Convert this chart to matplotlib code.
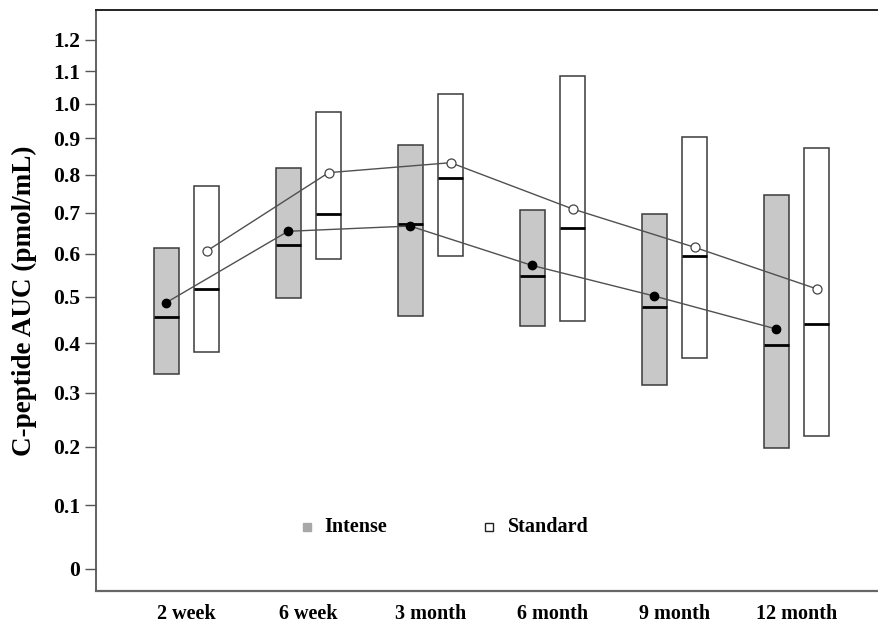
import numpy as np
import matplotlib
matplotlib.use("Agg")
import matplotlib.pyplot as plt
from matplotlib.patches import Rectangle

timepoints = ["2 week", "6 week", "3 month", "6 month", "9 month", "12 month"]

# Intense group: box bounds, median and mean (pmol/mL)
intense_low = [0.338, 0.498, 0.457, 0.436, 0.315, 0.197]
intense_high = [0.614, 0.817, 0.881, 0.707, 0.698, 0.745]
intense_median = [0.456, 0.621, 0.672, 0.548, 0.478, 0.397]
intense_mean = [0.487, 0.654, 0.667, 0.572, 0.502, 0.430]

# Standard group
standard_low = [0.381, 0.587, 0.595, 0.447, 0.370, 0.219]
standard_high = [0.769, 0.977, 1.031, 1.086, 0.904, 0.873]
standard_median = [0.518, 0.697, 0.791, 0.662, 0.594, 0.441]
standard_mean = [0.606, 0.805, 0.832, 0.710, 0.615, 0.518]

yticks = [0, 0.1, 0.2, 0.3, 0.4, 0.5, 0.6, 0.7, 0.8, 0.9, 1.0, 1.1, 1.2]
ytick_labels = ["0", "0.1", "0.2", "0.3", "0.4", "0.5", "0.6", "0.7", "0.8", "0.9", "1.0", "1.1", "1.2"]

serif = ["Liberation Serif", "DejaVu Serif"]

fig = plt.figure(figsize=(8.79, 6.27), dpi=100)
ax = fig.add_axes([0.1092, 0.0574, 0.8908, 0.9266])

ax.set_yscale("function", functions=(np.log1p, np.expm1))
ax.set_ylim(-0.0323, 1.30)
ax.set_xlim(-0.574, 5.844)

n = len(timepoints)
x_int = np.arange(n, dtype=float)
x_std = x_int + 0.333
box_w = 0.205

for i in range(n):
    for xc, lo, hi, med, fill in (
        (x_int[i], intense_low[i], intense_high[i], intense_median[i], "#c8c8c8"),
        (x_std[i], standard_low[i], standard_high[i], standard_median[i], "white"),
    ):
        ax.add_patch(Rectangle((xc - box_w / 2, lo), box_w, hi - lo,
                               facecolor=fill, edgecolor="#3a3a3a", linewidth=1.1, zorder=2))
        ax.plot([xc - box_w / 2, xc + box_w / 2], [med, med], color="black", lw=2.0,
                solid_capstyle="butt", zorder=3)

ax.plot(x_int, intense_mean, color="#505050", lw=1.0, zorder=4)
ax.plot(x_std, standard_mean, color="#505050", lw=1.0, zorder=4)
ax.plot(x_int, intense_mean, "o", ms=6, mfc="black", mec="black", zorder=5)
ax.plot(x_std, standard_mean, "o", ms=6.5, mfc="white", mec="#444444", mew=0.9, zorder=5)

# Category labels centred under each pair of boxes
ax.set_xticks((x_int + x_std) / 2)
ax.set_xticklabels(timepoints, fontfamily=serif, fontweight="bold", fontsize=14.5)
ax.tick_params(axis="x", length=0, pad=9)

ax.set_yticks(yticks)
ax.set_yticklabels(ytick_labels, fontfamily=serif, fontweight="bold", fontsize=15.5)
ax.yaxis.set_minor_locator(matplotlib.ticker.NullLocator())
ax.tick_params(axis="y", direction="out", length=8, width=1, color="#555555", pad=3.5)

ax.set_ylabel("C-peptide AUC (pmol/mL)", fontfamily=serif, fontweight="bold", fontsize=19.5, labelpad=11)

ax.spines["right"].set_visible(False)
ax.spines["top"].set_color("#222222")
ax.spines["top"].set_linewidth(1.4)
ax.spines["left"].set_color("#555555")
ax.spines["left"].set_linewidth(1.3)
ax.spines["bottom"].set_color("#666666")
ax.spines["bottom"].set_linewidth(1.6)

# Legend drawn as plain markers and text
leg_y = 0.0646
ax.plot([1.156], [leg_y], "s", ms=6, mfc="#a8a8a8", mec="#a8a8a8", zorder=6)
ax.text(1.295, leg_y, "Intense", fontfamily=serif, fontweight="bold", fontsize=14.5, va="center")
ax.plot([2.648], [leg_y], "s", ms=6, mfc="white", mec="#222222", mew=1.0, zorder=6)
ax.text(2.803, leg_y, "Standard", fontfamily=serif, fontweight="bold", fontsize=14.5, va="center")

fig.savefig("out.png", dpi=100)
